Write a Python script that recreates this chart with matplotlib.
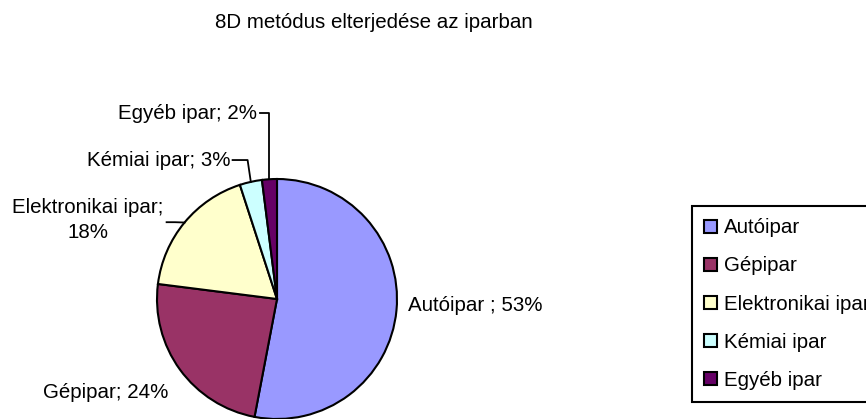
import numpy as np
import matplotlib
matplotlib.use('Agg')
import matplotlib.pyplot as plt

# adatok
kategoriak = ['Autóipar', 'Gépipar', 'Elektronikai ipar', 'Kémiai ipar', 'Egyéb ipar']
aranyok = [53, 24, 18, 3, 2]
cimkek = ['Autóipar ; 53%', 'Gépipar; 24%', 'Elektronikai ipar;\n18%', 'Kémiai ipar; 3%', 'Egyéb ipar; 2%']
szinek = ['#9999FF', '#993366', '#FFFFCC', '#CCFFFF', '#660066']

plt.rcParams['font.family'] = ['Liberation Sans', 'DejaVu Sans']
meret = 14.8

fig = plt.figure(figsize=(8.66, 4.19), dpi=100)
fig.text(374 / 866, 1 - 22 / 419, '8D metódus elterjedése az iparban',
         ha='center', va='center', fontsize=meret)

# pite: kozeppont (277, 299) px, sugar 120 px
ax = fig.add_axes([157 / 866, 0, 240 / 866, 240 / 419])
szeletek, _ = ax.pie(aranyok, colors=szinek, startangle=90, counterclock=False,
                     wedgeprops=dict(edgecolor='black', linewidth=1.5))
ax.set_xlim(-1, 1)
ax.set_ylim(-1, 1)
ax.set_aspect('equal')
ax.axis('off')
for sz in szeletek:
    sz.set_clip_on(False)

# cimkek helye (adat koordinatak)
hely = [(1.09, -0.05, 'left'), (-1.425, -0.775, 'center'), (-1.575, 0.66, 'center'),
        (-0.39, 1.158, 'right'), (-0.165, 1.55, 'right')]
for c, (x, y, ha) in zip(cimkek, hely):
    ax.text(x, y, c, ha=ha, va='center', fontsize=meret, linespacing=1.42,
            multialignment='center', clip_on=False)

# vezeto vonalak
kozep = [(sz.theta1 + sz.theta2) / 2 for sz in szeletek]
def pont(i):
    return np.cos(np.radians(kozep[i])), np.sin(np.radians(kozep[i]))

ex, ey = pont(4)
ax.plot([-0.14, ex, ex], [1.55, 1.55, ey], color='black', lw=1.3, clip_on=False)
kx, ky = pont(3)
ax.plot([-0.37, -0.245, kx], [1.158, 1.158, ky], color='black', lw=1.3, clip_on=False)
lx, ly = pont(2)
ax.plot([-0.92, -0.85, lx], [0.64, 0.64, ly], color='black', lw=1.3, clip_on=False)

# jelmagyarazat
leg = fig.legend(szeletek, kategoriak, loc='upper left',
                 bbox_to_anchor=(692 / 866, 1 - 206 / 419), fontsize=meret,
                 frameon=True, fancybox=False, edgecolor='black', framealpha=1,
                 handlelength=0.6, handleheight=0.6, handletextpad=0.35,
                 labelspacing=0.93, borderpad=0.6, borderaxespad=0)
leg.get_frame().set_linewidth(1.5)
for h in leg.legend_handles:
    h.set_linewidth(1.5)

fig.savefig('out.png', dpi=100)
